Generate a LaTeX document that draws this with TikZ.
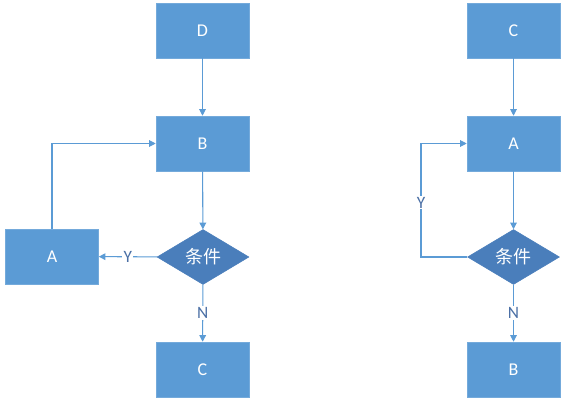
\documentclass[tikz,border=0pt]{standalone}
\usepackage{fontspec}
\setmainfont{Carlito}
\newfontfamily\cjk{Noto Sans CJK SC}
\usetikzlibrary{shapes.geometric,arrows.meta}
\definecolor{boxblue}{HTML}{5B9BD5}
\definecolor{diablue}{HTML}{4A7EBB}
\definecolor{lineblue}{HTML}{5B9BD5}
\definecolor{lblblue}{HTML}{4A6FA5}
\tikzset{
  box/.style={draw=boxblue!85!white, fill=boxblue, minimum width=93*0.75pt, minimum height=55*0.75pt, inner sep=0pt, text=white, font=\fontsize{13.5}{15}\selectfont},
  cond/.style={diamond, draw=diablue, fill=diablue, minimum width=92*0.75pt, minimum height=55*0.75pt, aspect=1.7, inner sep=0pt, text=white, font=\cjk\fontsize{13.5}{15}\selectfont},
  conn/.style={draw=lineblue, line width=0.8pt, -{Triangle[length=5pt,width=5pt]}},
  lbl/.style={fill=white, text=lblblue, inner sep=1pt, font=\fontsize{13}{15}\selectfont}
}
\begin{document}
\begin{tikzpicture}[x=0.75pt,y=-0.75pt]
\useasboundingbox (0,0) rectangle (567,406);
% left diagram
\node[box] (D1) at (202.5,30.5) {D};
\node[box] (B1) at (202.5,143.5) {B};
\node[cond] (K1) at (203,257) {条件};
\node[box] (A1) at (52,256.5) {A};
\node[box] (C1) at (202.5,369.5) {C};
\draw[conn] (D1) -- (B1);
\draw[conn] (B1) -- (K1);
\draw[conn] (K1) -- node[lbl] (Y1) {Y} (A1);
\draw[conn] (K1) -- node[lbl, pos=0.5] (N1) {N} (C1);
\draw[conn] (A1.north) |- (B1.west);
% right diagram
\node[box] (C2) at (513.5,30.5) {C};
\node[box] (A2) at (513.5,143.5) {A};
\node[cond] (K2) at (513.5,257) {条件};
\node[box] (B2) at (513.5,369.5) {B};
\coordinate (L2) at (421,257);
\coordinate (L3) at (421,143.5);
\draw[conn] (C2) -- (A2);
\draw[conn] (A2) -- (K2);
\draw[conn] (K2) -- node[lbl] (N2) {N} (B2);
\draw[conn] (K2.west) -- (L2) -- node[lbl, pos=0.48] (Y2) {Y} (L3) -- (A2.west);
\end{tikzpicture}
\end{document}
